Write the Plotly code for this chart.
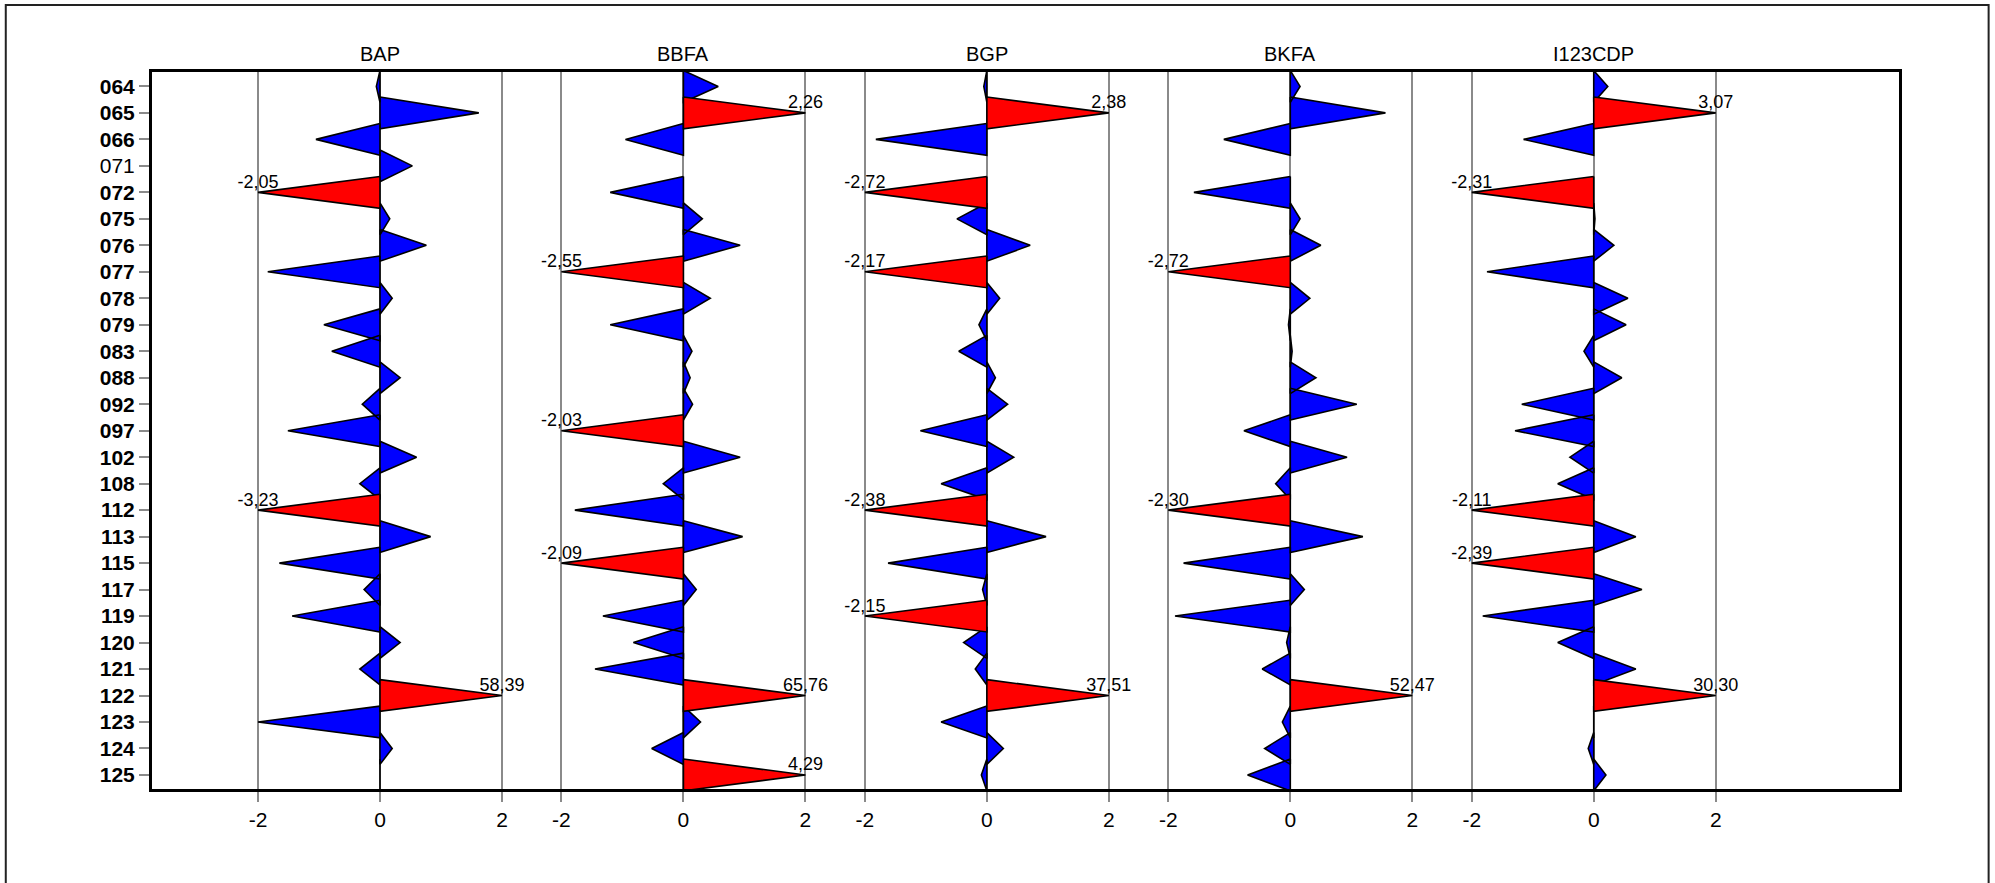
import plotly.graph_objects as go

rows = ["064", "065", "066", "071", "072", "075", "076", "077", "078", "079",
        "083", "088", "092", "097", "102", "108", "112", "113", "115", "117",
        "119", "120", "121", "122", "123", "124", "125"]
plain_rows = ["071"]

panels = ["BAP", "BBFA", "BGP", "BKFA", "I123CDP"]

BAP = [-0.06, 1.62, -1.05, 0.53, -2.05, 0.16, 0.76, -1.84, 0.20, -0.92,
       -0.79, 0.33, -0.29, -1.51, 0.60, -0.33, -3.23, 0.83, -1.65, -0.26,
       -1.44, 0.33, -0.33, 58.39, -2.00, 0.20, 0.00]
BBFA = [0.57, 2.26, -0.95, None, -1.20, 0.31, 0.93, -2.55, 0.44, -1.20,
        0.14, 0.11, 0.15, -2.03, 0.93, -0.33, -1.78, 0.97, -2.09, 0.21,
        -1.32, -0.82, -1.45, 65.76, 0.28, -0.52, 4.29]
BGP = [-0.05, 2.38, -1.82, None, -2.72, -0.49, 0.71, -2.17, 0.21, -0.13,
       -0.46, 0.14, 0.34, -1.09, 0.44, -0.75, -2.38, 0.97, -1.62, -0.07,
       -2.15, -0.38, -0.19, 37.51, -0.75, 0.27, -0.09]
BKFA = [0.16, 1.56, -1.09, None, -1.58, 0.16, 0.50, -2.72, 0.32, -0.03,
        0.03, 0.42, 1.09, -0.76, 0.93, -0.24, -2.30, 1.19, -1.75, 0.23,
        -1.89, -0.06, -0.46, 52.47, -0.13, -0.42, -0.70]
I123CDP = [0.23, 3.07, -1.15, None, -2.31, 0.02, 0.33, -1.75, 0.56, 0.53,
           -0.16, 0.46, -1.18, -1.29, -0.39, -0.59, -2.11, 0.69, -2.39, 0.79,
           -1.82, -0.59, 0.69, 30.30, 0.00, -0.09, 0.20]

series = [BAP, BBFA, BGP, BKFA, I123CDP]
axis_ticks = [-2, 0, 2]
limit = 2.0
panel_gap = 4.975
half = 0.6

FONT = "Liberation Sans, Arial, sans-serif"

blue_x, blue_y, red_x, red_y = [], [], [], []
lab_x, lab_y, lab_t = [], [], []
for k, vals in enumerate(series):
    off = k * panel_gap
    for i, v in enumerate(vals):
        if v is None:
            continue
        c = max(-limit, min(limit, v))
        xs = [off, off + c, off, off, None]
        ys = [i - half, i, i + half, i - half, None]
        if abs(v) > limit:
            red_x += xs
            red_y += ys
            lab_x.append(off + c)
            lab_y.append(i)
            lab_t.append(f"{v:.2f}".replace(".", ","))
        else:
            blue_x += xs
            blue_y += ys

fig = go.Figure()
fig.add_trace(go.Scatter(x=blue_x, y=blue_y, mode="lines", fill="toself",
                         fillcolor="#0000FF", line=dict(color="black", width=1.6),
                         hoverinfo="skip", showlegend=False))
fig.add_trace(go.Scatter(x=red_x, y=red_y, mode="lines", fill="toself",
                         fillcolor="#FF0000", line=dict(color="black", width=1.6),
                         hoverinfo="skip", showlegend=False))
fig.add_trace(go.Scatter(x=lab_x, y=lab_y, mode="text", text=lab_t,
                         textposition="top center",
                         textfont=dict(family=FONT, size=18, color="black"),
                         hoverinfo="skip", showlegend=False, cliponaxis=False))

tickvals, ticktext = [], []
for k in range(len(panels)):
    for t in axis_ticks:
        tickvals.append(k * panel_gap + t)
        ticktext.append(str(t))

for k, name in enumerate(panels):
    fig.add_annotation(x=k * panel_gap, y=1, xref="x", yref="paper",
                       text=name, showarrow=False, yanchor="bottom", yshift=5,
                       font=dict(family=FONT, size=20, color="black"))

ylabels = [r if r in plain_rows else f"<b>{r}</b>" for r in rows]

fig.update_xaxes(range=[-3.738, 4 * panel_gap + 5.005], tickvals=tickvals,
                 ticktext=ticktext, showgrid=True, gridcolor="#8a8a8a",
                 gridwidth=1.5, zeroline=False, ticks="outside", ticklen=10,
                 tickwidth=1.5, tickcolor="#8a8a8a", showline=True,
                 linecolor="black", linewidth=3, mirror=True,
                 tickfont=dict(family=FONT, size=21, color="black"))
fig.update_yaxes(range=[26.53, -0.545], tickvals=list(range(len(rows))),
                 ticktext=ylabels, showgrid=False, zeroline=False,
                 ticks="outside", ticklen=10, tickwidth=2, tickcolor="#8a8a8a",
                 showline=True, linecolor="black", linewidth=3, mirror=True,
                 tickfont=dict(family=FONT, size=21, color="black"))

fig.add_shape(type="rect", xref="paper", yref="paper",
              x0=-0.0837, x1=1.0513, y0=-0.2, y1=1.0934,
              line=dict(color="#222222", width=2), fillcolor="rgba(0,0,0,0)")

fig.update_layout(width=1995, height=883, plot_bgcolor="white",
                  paper_bgcolor="white",
                  margin=dict(l=152, r=96, t=72, b=94),
                  font=dict(family=FONT))

fig.write_html("out.html",
               config={"displayModeBar": False},
               post_script="document.body.style.margin='0';"
                           "document.body.style.overflow='hidden';")
